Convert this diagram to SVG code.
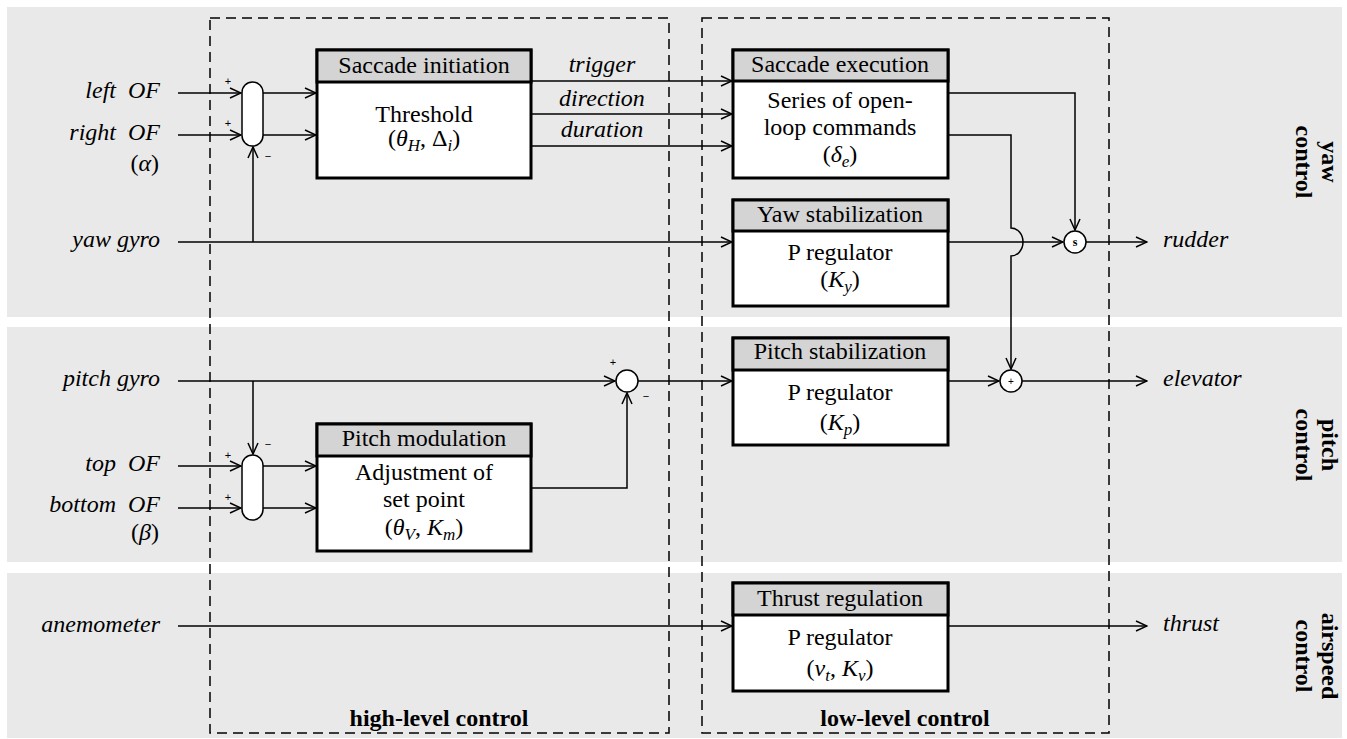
<svg xmlns="http://www.w3.org/2000/svg" width="1347" height="739" viewBox="0 0 1347 739">
<style>
.t{font-family:"Liberation Serif","Times New Roman",serif;font-size:24px;fill:#000}
.i{font-style:italic}
.b{font-weight:bold}
.m{text-anchor:middle}
.e{text-anchor:end}
.sg{font-family:"Liberation Sans",Arial,sans-serif;font-size:11px;fill:#000;text-anchor:middle}
.band{fill:#e9e9e9}
.box{fill:#fff;stroke:#000;stroke-width:3}
.hdr{fill:#d4d4d4;stroke:#000;stroke-width:3}
.ln{fill:none;stroke:#000;stroke-width:1.5}
.dash{fill:none;stroke:#000;stroke-width:1.5;stroke-dasharray:10 6}
.node{fill:#fff;stroke:#000;stroke-width:1.5}
</style>
<defs>
<marker id="arr" viewBox="0 0 13 12" refX="12" refY="6" markerWidth="13" markerHeight="12" markerUnits="userSpaceOnUse" orient="auto">
<path d="M1,1 L12,6 L1,11" fill="none" stroke="#000" stroke-width="1.5"/>
</marker>
</defs>

<g id="bands">
<rect class="band" x="7" y="7" width="1335" height="310"/>
<rect class="band" x="7" y="327" width="1335" height="235"/>
<rect class="band" x="7" y="573" width="1335" height="165"/>
</g>

<g id="regions">
<rect class="dash" x="210" y="18" width="459" height="715"/>
<rect class="dash" x="702" y="18" width="407" height="715"/>
<text class="t b m" x="439" y="726">high-level control</text>
<text class="t b m" x="905" y="726">low-level control</text>
</g>

<g id="band-labels">
<text class="t b m" transform="translate(1296,162) rotate(90)"><tspan x="0" y="-26">yaw</tspan><tspan x="0" y="0">control</tspan></text>
<text class="t b m" transform="translate(1296,445) rotate(90)"><tspan x="0" y="-26">pitch</tspan><tspan x="0" y="0">control</tspan></text>
<text class="t b m" transform="translate(1296,656) rotate(90)"><tspan x="0" y="-26">airspeed</tspan><tspan x="0" y="0">control</tspan></text>
</g>

<g id="inputs">
<text class="t i e" x="160" y="98">left&#160;&#160;OF</text>
<text class="t i e" x="160" y="140">right&#160;&#160;OF</text>
<text class="t e" x="159" y="171">(<tspan class="i">α</tspan>)</text>
<text class="t i e" x="160" y="247">yaw gyro</text>
<text class="t i e" x="160" y="386">pitch gyro</text>
<text class="t i e" x="160" y="471">top&#160;&#160;OF</text>
<text class="t i e" x="160" y="512">bottom&#160;&#160;OF</text>
<text class="t e" x="159" y="540">(<tspan class="i">β</tspan>)</text>
<text class="t i e" x="160" y="632">anemometer</text>
</g>

<g id="outputs">
<text class="t i" x="1163" y="247">rudder</text>
<text class="t i" x="1163" y="386">elevator</text>
<text class="t i" x="1163" y="631">thrust</text>
</g>

<g id="comparator-yaw">
<rect class="node" x="242" y="82" width="21" height="64" rx="10.5"/>
<text class="sg" x="228" y="85">+</text>
<text class="sg" x="228" y="127">+</text>
<text class="sg" x="268" y="160">−</text>
</g>

<g id="comparator-pitch">
<rect class="node" x="242" y="455" width="21" height="65" rx="10.5"/>
<text class="sg" x="228" y="459">+</text>
<text class="sg" x="228" y="501">+</text>
<text class="sg" x="268" y="448">−</text>
</g>

<g id="sum-setpoint">
<circle class="node" cx="627" cy="381" r="11"/>
<text class="sg" x="613" y="366">+</text>
<text class="sg" x="646" y="400">−</text>
</g>

<g id="switch-rudder">
<circle class="node" cx="1075" cy="242" r="11"/>
<text class="sg" x="1075" y="246" style="font-family:'Liberation Serif',serif;font-weight:bold;font-size:12px">s</text>
</g>

<g id="sum-elevator">
<circle class="node" cx="1011" cy="381" r="11"/>
<text class="sg" x="1011" y="385" style="font-size:10px">+</text>
</g>

<g id="saccade-initiation">
<rect class="box" x="317" y="50" width="214" height="128"/>
<rect class="hdr" x="317" y="50" width="214" height="32"/>
<text class="t m" x="424" y="73">Saccade initiation</text>
<text class="t m" x="424" y="122">Threshold</text>
<text class="t m" x="424" y="146">(<tspan class="i">θ</tspan><tspan class="i" font-size="17" dy="5">H</tspan><tspan dy="-5">, Δ</tspan><tspan class="i" font-size="17" dy="5">i</tspan><tspan dy="-5">)</tspan></text>
</g>

<g id="saccade-execution">
<rect class="box" x="733" y="50" width="215" height="128"/>
<rect class="hdr" x="733" y="50" width="215" height="31"/>
<text class="t m" x="840" y="72">Saccade execution</text>
<text class="t m" x="840" y="108">Series of open-</text>
<text class="t m" x="840" y="135">loop commands</text>
<text class="t m" x="840" y="162">(<tspan class="i">δ</tspan><tspan class="i" font-size="17" dy="5">e</tspan><tspan dy="-5">)</tspan></text>
</g>

<g id="yaw-stabilization">
<rect class="box" x="733" y="200" width="215" height="106"/>
<rect class="hdr" x="733" y="200" width="215" height="31"/>
<text class="t m" x="840" y="222">Yaw stabilization</text>
<text class="t m" x="840" y="260">P regulator</text>
<text class="t m" x="840" y="287">(<tspan class="i">K</tspan><tspan class="i" font-size="17" dy="5">y</tspan><tspan dy="-5">)</tspan></text>
</g>

<g id="pitch-stabilization">
<rect class="box" x="733" y="338" width="215" height="107"/>
<rect class="hdr" x="733" y="338" width="215" height="32"/>
<text class="t m" x="840" y="359">Pitch stabilization</text>
<text class="t m" x="840" y="400">P regulator</text>
<text class="t m" x="840" y="430">(<tspan class="i">K</tspan><tspan class="i" font-size="17" dy="5">p</tspan><tspan dy="-5">)</tspan></text>
</g>

<g id="pitch-modulation">
<rect class="box" x="317" y="424" width="214" height="127"/>
<rect class="hdr" x="317" y="424" width="214" height="32"/>
<text class="t m" x="424" y="446">Pitch modulation</text>
<text class="t m" x="424" y="480">Adjustment of</text>
<text class="t m" x="424" y="507">set point</text>
<text class="t m" x="424" y="535">(<tspan class="i">θ</tspan><tspan class="i" font-size="17" dy="5">V</tspan><tspan dy="-5">, </tspan><tspan class="i">K</tspan><tspan class="i" font-size="17" dy="5">m</tspan><tspan dy="-5">)</tspan></text>
</g>

<g id="thrust-regulation">
<rect class="box" x="733" y="583" width="215" height="108"/>
<rect class="hdr" x="733" y="583" width="215" height="32"/>
<text class="t m" x="840" y="606">Thrust regulation</text>
<text class="t m" x="840" y="645">P regulator</text>
<text class="t m" x="840" y="676">(<tspan class="i">v</tspan><tspan class="i" font-size="17" dy="5">t</tspan><tspan dy="-5">, </tspan><tspan class="i">K</tspan><tspan class="i" font-size="17" dy="5">v</tspan><tspan dy="-5">)</tspan></text>
</g>

<g id="connectors">
<path class="ln" d="M178,93 H241" marker-end="url(#arr)"/>
<path class="ln" d="M178,135 H241" marker-end="url(#arr)"/>
<path class="ln" d="M178,242 H732" marker-end="url(#arr)"/>
<path class="ln" d="M253,242 V147" marker-end="url(#arr)"/>
<path class="ln" d="M263,93 H316" marker-end="url(#arr)"/>
<path class="ln" d="M263,135 H316" marker-end="url(#arr)"/>
<path class="ln" d="M531,81 H732" marker-end="url(#arr)"/>
<path class="ln" d="M531,114 H732" marker-end="url(#arr)"/>
<path class="ln" d="M531,146 H732" marker-end="url(#arr)"/>
<path class="ln" d="M948,93 H1075 V230" marker-end="url(#arr)"/>
<path class="ln" d="M948,135 H1011 V228 A12,14 0 0 1 1011,256 V369" marker-end="url(#arr)"/>
<path class="ln" d="M948,242 H1063" marker-end="url(#arr)"/>
<path class="ln" d="M1086,242 H1147" marker-end="url(#arr)"/>
<path class="ln" d="M178,381 H615" marker-end="url(#arr)"/>
<path class="ln" d="M253,381 V454" marker-end="url(#arr)"/>
<path class="ln" d="M178,466 H241" marker-end="url(#arr)"/>
<path class="ln" d="M178,508 H241" marker-end="url(#arr)"/>
<path class="ln" d="M263,466 H316" marker-end="url(#arr)"/>
<path class="ln" d="M263,508 H316" marker-end="url(#arr)"/>
<path class="ln" d="M531,488 H627 V393" marker-end="url(#arr)"/>
<path class="ln" d="M638,381 H732" marker-end="url(#arr)"/>
<path class="ln" d="M948,381 H999" marker-end="url(#arr)"/>
<path class="ln" d="M1022,381 H1147" marker-end="url(#arr)"/>
<path class="ln" d="M178,626 H732" marker-end="url(#arr)"/>
<path class="ln" d="M948,626 H1147" marker-end="url(#arr)"/>
<text class="t i m" x="602" y="72">trigger</text>
<text class="t i m" x="602" y="106">direction</text>
<text class="t i m" x="602" y="137">duration</text>
</g>
</svg>
